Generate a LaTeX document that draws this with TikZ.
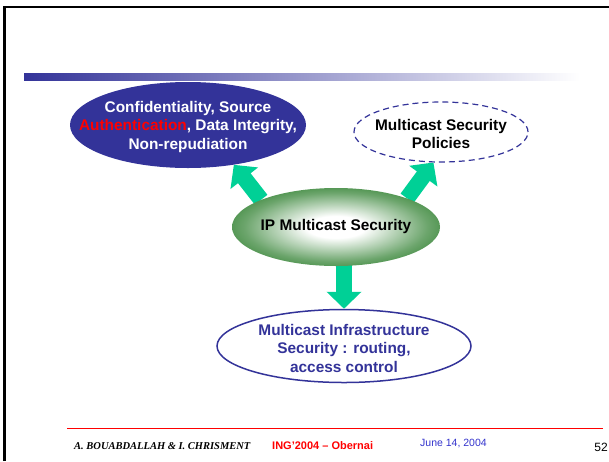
\documentclass[tikz,border=0pt]{standalone}
\usepackage{fontspec}
\setmainfont{Liberation Sans}
\newfontfamily\footserif{Liberation Serif}
\usetikzlibrary{shapes.geometric,arrows.meta,backgrounds}

\definecolor{slideblue}{RGB}{51,51,153}
\definecolor{flowgreen}{RGB}{0,208,150}
\definecolor{ipgreen}{RGB}{10,105,10}
\definecolor{dateblue}{RGB}{51,51,204}
\pgfdeclareradialshading{ipglow}{\pgfpoint{0bp}{0bp}}{color(0bp)=(white); color(7bp)=(white); color(22bp)=(ipgreen!60); color(36bp)=(ipgreen); color(50bp)=(ipgreen!85!black)}

\tikzset{
  bubble/.style={ellipse, inner sep=0pt},
  bubbletext/.style={align=center, inner sep=0pt,
    font=\fontsize{15.4}{18.5}\selectfont\bfseries},
  flow/.style={line width=16pt, flowgreen, -{Triangle[width=34pt,length=17pt]}},
  foot/.style={anchor=base west, inner sep=0pt},
}

\begin{document}
\begin{tikzpicture}[x=1pt,y=-1pt]
    \useasboundingbox (0,0) rectangle (609,461);
    \draw[line width=2.5pt] (4.5,461) -- (4.5,6.8) -- (609,6.8);
    \shade[left color=slideblue, right color=white] (24,73.7) rectangle (580,80);

    \node[bubble, fill=slideblue, minimum width=236pt, minimum height=86pt] (conf) at (188,125) {};
    \node[bubbletext, text=white] (conftext) at ([yshift=-2pt]conf.center)
        {Confidentiality, Source\\\textcolor{red}{Authentication}, Data Integrity,\\Non-repudiation};
    \node[bubble, draw=slideblue, line width=1.2pt, dash pattern=on 6pt off 4pt, fill=white,
        minimum width=174pt, minimum height=60pt] (pol) at (441,132) {};
    \node[bubbletext] (poltext) at ([yshift=-2pt]pol.center) {Multicast Security\\Policies};
    \node[bubble, shade, shading=ipglow, minimum width=208pt, minimum height=78pt] (ip) at (336,227) {};
    \node[bubbletext] (iptext) at (ip.center) {IP Multicast Security};
    \node[bubble, draw=slideblue, line width=1.5pt, fill=white,
        minimum width=254pt, minimum height=73pt] (infra) at (344,346) {};
    \node[bubbletext, text=slideblue] (infratext) at ([yshift=-2pt]infra.center)
        {Multicast Infrastructure\\Security : routing,\\access control};

    \begin{scope}[on background layer]
        \draw[flow] (ip.160) -- (conf.-41);
        \draw[flow] (ip.22) -- (pol.-104);
        \draw[flow] (infra.north |- ip.center) -- (infra.north);
    \end{scope}

    \draw[red, line width=1.5pt] (67,428.5) -- (603,428.5);
    \node[foot, font=\footserif\bfseries\itshape\fontsize{10.5}{12}\selectfont] (author) at (74,449)
        {A. BOUABDALLAH \& I. CHRISMENT};
    \node[foot, red, font=\bfseries\fontsize{11}{13}\selectfont] (event) at (272,449) {ING'2004 -- Obernai};
    \node[foot, dateblue, font=\fontsize{10.5}{12}\selectfont] (date) at (420,446.5) {June 14, 2004};
    \node[foot, anchor=base east, font=\fontsize{12}{14}\selectfont] (page) at (608,451.5) {52};
\end{tikzpicture}
\end{document}
